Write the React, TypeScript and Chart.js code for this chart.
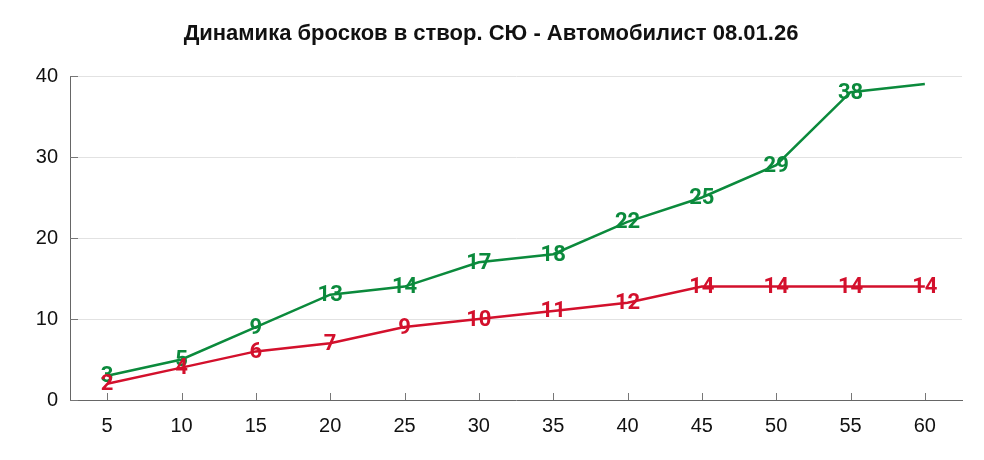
import React, { useEffect, useRef } from "react";
import { Chart, registerables } from "chart.js";

Chart.register(...registerables);

const minutes = ["5", "10", "15", "20", "25", "30", "35", "40", "45", "50", "55", "60"];
const teamA = [3, 5, 9, 13, 14, 17, 18, 22, 25, 29, 38, 39];
const teamALabels: (string | null)[] = ["3", "5", "9", "13", "14", "17", "18", "22", "25", "29", "38", null];
const teamB = [2, 4, 6, 7, 9, 10, 11, 12, 14, 14, 14, 14];
const teamBLabels: (string | null)[] = ["2", "4", "6", "7", "9", "10", "11", "12", "14", "14", "14", "14"];
const yTicks = [0, 10, 20, 30, 40];
const titleText = "Динамика бросков в створ. СЮ - Автомобилист 08.01.26";

const GREEN = "#0b8a3c";
const RED = "#d3102c";

const innerTicks = {
  id: "innerTicks",
  afterDatasetsDraw(chart: any) {
    const ctx = chart.ctx;
    const x = chart.scales.x;
    const y = chart.scales.y;
    ctx.save();
    ctx.lineWidth = 1;
    ctx.strokeStyle = "#777";
    ctx.beginPath();
    x.ticks.forEach((_t: any, i: number) => {
      const px = Math.round(x.getPixelForTick(i)) + 0.5;
      ctx.moveTo(px, y.bottom);
      ctx.lineTo(px, y.bottom - 7);
    });
    y.ticks.forEach((_t: any, i: number) => {
      const py = Math.round(y.getPixelForTick(i)) + 0.5;
      ctx.moveTo(x.left, py);
      ctx.lineTo(x.left + 8, py);
    });
    ctx.stroke();
    ctx.restore();
  },
};

const titleDraw = {
  id: "titleDraw",
  afterDraw(chart: any) {
    const ctx = chart.ctx;
    ctx.save();
    ctx.font = "bold 22px 'Liberation Sans', Arial, sans-serif";
    ctx.fillStyle = "#111";
    ctx.textAlign = "center";
    ctx.textBaseline = "middle";
    ctx.fillText(titleText, chart.width / 2 - 1, 34);
    ctx.restore();
  },
};

const pointLabels = {
  id: "pointLabels",
  afterDatasetsDraw(chart: any) {
    const ctx = chart.ctx;
    ctx.save();
    ctx.font = "bold 22px Roboto, 'Liberation Sans', sans-serif";
    ctx.textAlign = "center";
    ctx.textBaseline = "middle";
    chart.data.datasets.forEach((ds: any, di: number) => {
      const meta = chart.getDatasetMeta(di);
      const labels = ds.pointLabelTexts as (string | null)[];
      meta.data.forEach((pt: any, i: number) => {
        const txt = labels[i];
        if (!txt) return;
        ctx.fillStyle = ds.borderColor;
        ctx.fillText(txt, pt.x, pt.y + 1);
      });
    });
    ctx.restore();
  },
};

export default function App() {
  const ref = useRef<HTMLCanvasElement | null>(null);
  useEffect(() => {
    document.body.style.margin = "0";
    if (!ref.current) return;
    const chart = new Chart(ref.current, {
      type: "line",
      data: {
        labels: minutes,
        datasets: [
          {
            label: "СЮ",
            data: teamA,
            borderColor: GREEN,
            backgroundColor: GREEN,
            borderWidth: 2.5,
            pointRadius: 0,
            tension: 0,
            pointLabelTexts: teamALabels,
          } as any,
          {
            label: "Автомобилист",
            data: teamB,
            borderColor: RED,
            backgroundColor: RED,
            borderWidth: 2.5,
            pointRadius: 0,
            tension: 0,
            pointLabelTexts: teamBLabels,
          } as any,
        ],
      },
      options: {
        responsive: false,
        animation: false,
        layout: { padding: { left: 0, right: 22, top: 76, bottom: 0 } },
        plugins: {
          legend: { display: false },
          tooltip: { enabled: false },
          title: { display: false },
        },
        scales: {
          x: {
            type: "category",
            offset: true,
            grid: { display: false, drawTicks: false },
            border: { display: true, color: "#666", width: 1 },
            ticks: {
              color: "#111",
              padding: 14,
              font: { family: "'Liberation Sans', Arial, sans-serif", size: 20 },
            },
            afterFit: (s: any) => {
              s.height = 60;
            },
          },
          y: {
            min: 0,
            max: 40,
            afterBuildTicks: (s: any) => {
              s.ticks = yTicks.map((v) => ({ value: v }));
            },
            grid: { color: "#e2e2e2", drawTicks: false },
            border: { display: true, color: "#666", width: 1 },
            ticks: {
              color: "#111",
              padding: 12,
              font: { family: "'Liberation Sans', Arial, sans-serif", size: 20 },
            },
            afterFit: (s: any) => {
              s.width = 70;
            },
          },
        },
      },
      plugins: [innerTicks, pointLabels, titleDraw],
    });
    return () => chart.destroy();
  }, []);
  return (
    <div style={{ width: 984, height: 460 }}>
      <canvas ref={ref} width={984} height={460} style={{ display: "block" }} />
    </div>
  );
}
